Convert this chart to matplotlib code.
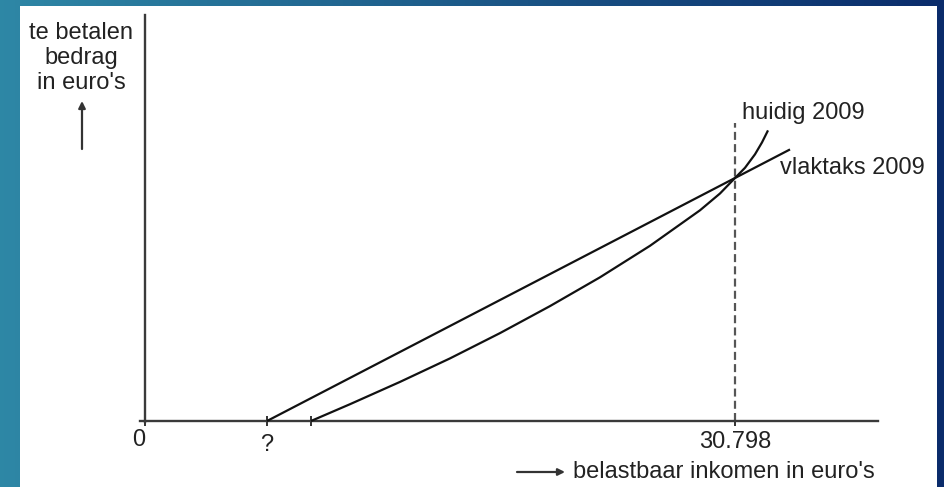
import matplotlib
matplotlib.use('Agg')
import matplotlib.pyplot as plt
import numpy as np
from matplotlib.patches import Rectangle
from matplotlib.transforms import ScaledTranslation

plt.rcParams['font.family'] = ['Liberation Sans', 'DejaVu Sans']

# ---- data (euros) ----
tick_positions = [0, 6368, 8665, 30798]
tick_labels = ['0', '?', '', '30.798']
vlak_income = [6368, 33670]
vlak_tax = [0, 14176]
huidig_income = [8665, 10701, 13311, 15921, 18531, 21141, 23751, 26361, 28971,
                 30015, 30798, 31320, 31842, 32208, 32521]
huidig_tax = [0, 877, 2041, 3268, 4588, 5998, 7501, 9146, 10999,
              11876, 12685, 13217, 13922, 14543, 15170]
break_even = 30798
break_even_top = 15556

W, H = 945, 487
S = 0.019157  # px per euro (layout scale)

fig = plt.figure(figsize=(W / 100, H / 100), dpi=100)

# background gradient + white slide box
bg = fig.add_axes([0, 0, 1, 1])
bg.set_axis_off()
left_c = np.array([0.18, 0.53, 0.65])
right_c = np.array([0.04, 0.17, 0.42])
t = np.linspace(0, 1, 256)
grad = (left_c[None, :] * (1 - t[:, None]) + right_c[None, :] * t[:, None])[None, :, :]
bg.imshow(grad, extent=[0, 1, 0, 1], aspect='auto', transform=bg.transAxes)
bg.add_patch(Rectangle((20 / W, 0), 917 / W, 481 / H, transform=bg.transAxes,
                       fc='white', ec='none'))
bg.set_xlim(0, 1)
bg.set_ylim(0, 1)


def P(x, y):
    return (x / W, 1 - y / H)


# main axes: origin at px (145, 421)
ax_l, ax_r, ax_t, ax_b = 100, 900, 10, 470
ax = fig.add_axes([ax_l / W, (H - ax_b) / H, (ax_r - ax_l) / W, (ax_b - ax_t) / H])
ax.patch.set_alpha(0)
ax.set_xlim((ax_l - 145) / S, (ax_r - 145) / S)
ax.set_ylim(-(ax_b - 421) / S, (421 - ax_t) / S)

for s in ['top', 'right']:
    ax.spines[s].set_visible(False)
ax.spines['left'].set_position(('data', 0))
ax.spines['bottom'].set_position(('data', 0))
for s in ['left', 'bottom']:
    ax.spines[s].set_color('#3a3a3a')
    ax.spines[s].set_linewidth(1.7)
ax.spines['left'].set_bounds(-60, (421 - 15) / S)
ax.spines['bottom'].set_bounds((140 - 145) / S, (878 - 145) / S)

ax.set_xticks(tick_positions)
ax.set_xticklabels(tick_labels, fontsize=17, color='#222222')
ax.tick_params(axis='x', direction='inout', length=7, width=1.3, color='#222222', pad=4)
ax.set_yticks([0])
ax.set_yticklabels([''])
ax.tick_params(axis='y', direction='out', length=3, width=1.3, color='#222222')
lbls = ax.get_xticklabels()
lbls[0].set_transform(lbls[0].get_transform() + ScaledTranslation(-6 / 100, 2 / 100, fig.dpi_scale_trans))
lbls[1].set_transform(lbls[1].get_transform() + ScaledTranslation(0, -3 / 100, fig.dpi_scale_trans))

ax.plot(vlak_income, vlak_tax, color='#111111', lw=1.6, solid_capstyle='butt', zorder=3)
ax.plot(huidig_income, huidig_tax, color='#111111', lw=1.6, solid_capstyle='butt',
        solid_joinstyle='round', zorder=3)
ax.plot([break_even, break_even], [0, break_even_top], color='#555555', lw=1.6,
        ls=(0, (3.6, 1.9)), zorder=2)

# texts
tc = '#222222'
fig.text(*P(81, 58), "te betalen\nbedrag\nin euro's", ha='center', va='center',
         fontsize=17, linespacing=1.2, color=tc)
fig.text(*P(742, 113), "huidig 2009", ha='left', va='center', fontsize=17, color=tc)
fig.text(*P(780, 168), "vlaktaks 2009", ha='left', va='center', fontsize=17, color=tc)
fig.text(*P(573, 472), "belastbaar inkomen in euro's", ha='left', va='center',
         fontsize=17, color=tc)

ax.annotate('', xy=P(82, 101), xytext=P(82, 149), xycoords='figure fraction',
            textcoords='figure fraction',
            arrowprops=dict(arrowstyle='-|>', lw=1.6, color='#333333', mutation_scale=10,
                            shrinkA=0, shrinkB=0))
ax.annotate('', xy=P(565, 472), xytext=P(517, 472), xycoords='figure fraction',
            textcoords='figure fraction',
            arrowprops=dict(arrowstyle='-|>', lw=1.6, color='#333333', mutation_scale=10,
                            shrinkA=0, shrinkB=0))

fig.savefig('out.png', dpi=100)
